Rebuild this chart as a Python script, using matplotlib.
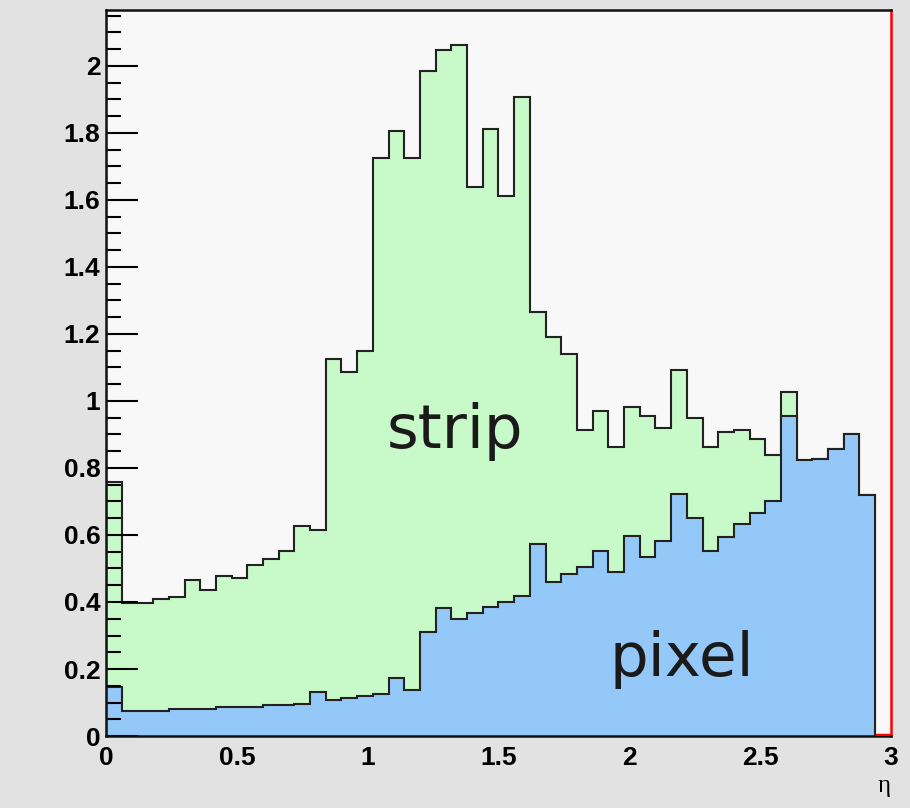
import numpy as np
import matplotlib
matplotlib.use("Agg")
import matplotlib.pyplot as plt
from matplotlib.ticker import MultipleLocator

# eta binning: 50 bins of 0.06 from 0 to 3
eta_lo, eta_hi, n_bins = 0.0, 3.0, 50

pixel = [0.145, 0.076, 0.076, 0.076, 0.080, 0.080, 0.080, 0.086, 0.086, 0.086,
         0.092, 0.092, 0.097, 0.131, 0.108, 0.114, 0.120, 0.125, 0.172, 0.137,
         0.311, 0.383, 0.349, 0.367, 0.385, 0.401, 0.418, 0.573, 0.460, 0.483,
         0.505, 0.552, 0.489, 0.596, 0.534, 0.581, 0.722, 0.650, 0.552, 0.595,
         0.632, 0.666, 0.701, 0.954, 0.823, 0.827, 0.858, 0.901, 0.719, 0.0]

strip = [0.614, 0.320, 0.320, 0.333, 0.334, 0.386, 0.357, 0.391, 0.385, 0.424,
         0.436, 0.460, 0.529, 0.484, 1.017, 0.973, 1.029, 1.600, 1.634, 1.588,
         1.673, 1.664, 1.715, 1.273, 1.426, 1.210, 1.489, 0.692, 0.730, 0.656,
         0.409, 0.419, 0.375, 0.387, 0.420, 0.339, 0.370, 0.300, 0.310, 0.313,
         0.281, 0.220, 0.137, 0.073, 0.0, 0.0, 0.0, 0.0, 0.0, 0.0]

x_ticks = [0, 0.5, 1, 1.5, 2, 2.5, 3]
x_tick_labels = ["0", "0.5", "1", "1.5", "2", "2.5", "3"]
y_ticks = [0, 0.2, 0.4, 0.6, 0.8, 1, 1.2, 1.4, 1.6, 1.8, 2]
y_tick_labels = ["0", "0.2", "0.4", "0.6", "0.8", "1", "1.2", "1.4", "1.6",
                 "1.8", "2"]

green = "#c8f9c8"
blue = "#94c8f8"

edges = np.linspace(eta_lo, eta_hi, n_bins + 1)
pixel = np.array(pixel)
total = pixel + np.array(strip)

fig = plt.figure(figsize=(9.1, 8.08), dpi=100, facecolor="#e2e2e2")
ax = fig.add_axes([0.1165, 0.0891, 0.8625, 0.8985], facecolor="#f8f8f8")

# stacked: strip drawn as total, pixel on top of it
ax.stairs(total, edges, fill=True, facecolor=green, edgecolor="#222222",
          linewidth=1.5)
ax.stairs(pixel, edges, fill=True, facecolor=blue, edgecolor="#222222",
          linewidth=1.5)
ax.hlines(0.002, edges[-2], edges[-1], color="red", linewidth=2.5, zorder=3)

ax.set_xlim(eta_lo, eta_hi)
ax.set_ylim(0, 2.167)

tick_font = dict(family=["Liberation Sans Narrow", "Liberation Sans"],
                 weight="bold", size=19)
ax.set_xticks(x_ticks)
ax.set_xticklabels(x_tick_labels, **tick_font)
ax.tick_params(axis="x", length=0, pad=7)

ax.yaxis.set_minor_locator(MultipleLocator(0.05))
ax.set_yticks(y_ticks)
ax.set_yticklabels(y_tick_labels, **tick_font)
ax.tick_params(axis="y", which="major", direction="in", length=23, width=1.5,
               pad=4)
ax.tick_params(axis="y", which="minor", direction="in", length=11, width=1.5)

for side in ["left", "bottom", "top"]:
    ax.spines[side].set_linewidth(1.8)
    ax.spines[side].set_color("#111111")
ax.spines["right"].set_color("red")
ax.spines["right"].set_linewidth(1.8)

ax.set_xlabel("η", loc="right", fontsize=18, labelpad=4,
              family=["Liberation Serif", "DejaVu Serif"])

ax.text(1.333, 0.86, "strip", fontsize=44, ha="center", va="baseline",
        color="#1a1a1a")
ax.text(2.20, 0.179, "pixel", fontsize=44, ha="center", va="baseline",
        color="#1a1a1a")

fig.savefig("out.png", dpi=100, facecolor=fig.get_facecolor())
